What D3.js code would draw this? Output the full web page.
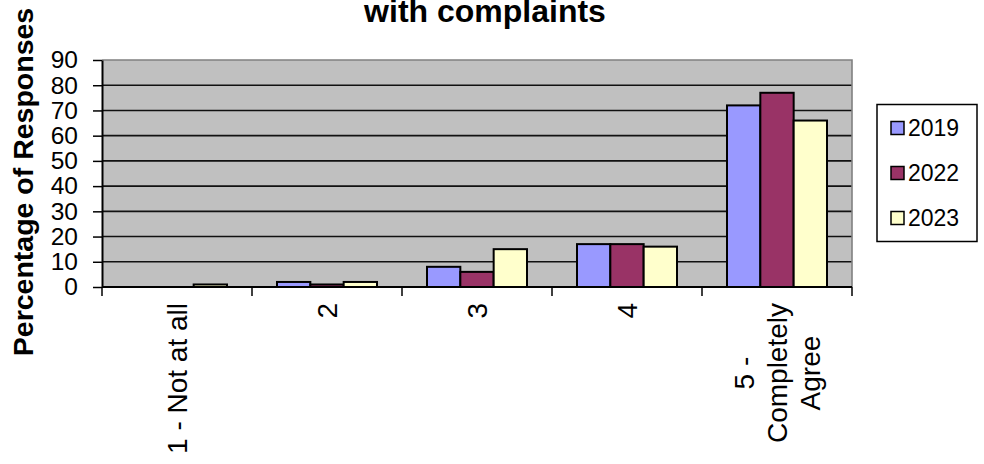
<!DOCTYPE html>
<html>
<head>
<meta charset="utf-8">
<script src="https://cdn.jsdelivr.net/npm/d3@7/dist/d3.min.js"></script>
<style>
  html, body { margin: 0; padding: 0; background: #fff; }
  svg { display: block; font-family: "Liberation Sans", Arial, sans-serif; }
</style>
</head>
<body>
<svg id="chart" width="984" height="464"></svg>
<script>
// Survey responses by rating, per year (percent of responses)
const categories = ["1 - Not at all", "2", "3", "4", "5 - |Completely|Agree"];
const seriesNames = ["2019", "2022", "2023"];
const values2019 = [0, 2, 8, 17, 72];
const values2022 = [0, 1, 6, 17, 77];
const values2023 = [1, 2, 15, 16, 66];
const yTicks = [0, 10, 20, 30, 40, 50, 60, 70, 80, 90];
const seriesColors = ["#9999FF", "#993366", "#FFFFCC"];

const seriesValues = [values2019, values2022, values2023];
const rows = categories.map((c, i) => ({
  category: c,
  values: seriesNames.map((s, j) => ({ series: s, value: seriesValues[j][i] }))
}));

const svg = d3.select("#chart");
const plot = { left: 102, right: 852, top: 60, bottom: 287 };

const x = d3.scaleBand().domain(categories).range([plot.left, plot.right]).padding(0);
const xSub = d3.scaleBand().domain(seriesNames).range([0, x.bandwidth()])
  .paddingInner(0).paddingOuter(0.75);
const y = d3.scaleLinear().domain([0, 90]).range([plot.bottom, plot.top]);
const color = d3.scaleOrdinal().domain(seriesNames).range(seriesColors);

// Plot background
svg.append("rect")
  .attr("x", plot.left).attr("y", plot.top)
  .attr("width", plot.right - plot.left).attr("height", plot.bottom - plot.top)
  .attr("fill", "#C0C0C0");

// Horizontal gridlines
svg.append("g").selectAll("line")
  .data(yTicks.filter(t => t > 0 && t < 90))
  .join("line")
  .attr("x1", plot.left).attr("x2", plot.right)
  .attr("y1", d => y(d)).attr("y2", d => y(d))
  .attr("stroke", "#111").attr("stroke-width", 1.6);

// Top and right frame of the plot area
svg.append("path")
  .attr("d", `M${plot.left},${y(90)}H${plot.right}V${plot.bottom}`)
  .attr("fill", "none").attr("stroke", "#808080").attr("stroke-width", 1.6);

// Bars
const groups = svg.append("g").selectAll("g")
  .data(rows).join("g")
  .attr("transform", d => `translate(${x(d.category)},0)`);

groups.selectAll("rect")
  .data(d => d.values.filter(v => v.value > 0))
  .join("rect")
  .attr("x", d => xSub(d.series))
  .attr("y", d => y(d.value))
  .attr("width", xSub.bandwidth())
  .attr("height", d => y(0) - y(d.value))
  .attr("fill", d => color(d.series))
  .attr("stroke", "#000").attr("stroke-width", 2);

// Y axis
const yAxis = svg.append("g")
  .attr("transform", `translate(${plot.left},0)`)
  .call(d3.axisLeft(y).tickValues(yTicks).tickSize(9).tickPadding(15).tickSizeOuter(0));
yAxis.select(".domain").attr("stroke", "#000").attr("stroke-width", 2);
yAxis.selectAll(".tick line").attr("stroke", "#000").attr("stroke-width", 1.5);
yAxis.selectAll(".tick text")
  .attr("font-size", 24.5).attr("fill", "#000")
  .attr("font-family", "'Liberation Sans', Arial, sans-serif");

// X axis (ticks on category boundaries)
const xAxis = svg.append("g")
  .attr("transform", `translate(0,${plot.bottom})`);
xAxis.append("line")
  .attr("x1", plot.left).attr("x2", plot.right)
  .attr("stroke", "#000").attr("stroke-width", 2);
const boundaries = categories.map(c => x(c)).concat([x(categories[categories.length - 1]) + x.bandwidth()]);
xAxis.selectAll("line.tick")
  .data(boundaries).join("line")
  .attr("class", "tick")
  .attr("x1", d => d).attr("x2", d => d)
  .attr("y1", 0).attr("y2", 9)
  .attr("stroke", "#000").attr("stroke-width", 1.5);

// Rotated category labels, lines centred, block ending just below the ticks
const labelTop = 303;
const lineGap = 33;
rows.forEach(r => {
  const lines = r.category.split("|").map(s => s.trim());
  const cx = x(r.category) + x.bandwidth() / 2;
  const g = svg.append("g");
  const texts = lines.map((ln, i) => g.append("text")
    .attr("font-size", 28).attr("fill", "#000")
    .attr("text-anchor", "middle")
    .text(ln));
  const maxW = d3.max(texts, t => t.node().getComputedTextLength());
  const cy = labelTop + maxW / 2;
  texts.forEach((t, i) => {
    const off = (i - (lines.length - 1) / 2) * lineGap;
    t.attr("transform", `translate(${cx + off},${cy}) rotate(-90)`)
      .attr("dy", "0.36em");
  });
});

// Y axis title
svg.append("text")
  .attr("transform", `translate(33,182) rotate(-90)`)
  .attr("text-anchor", "middle")
  .attr("font-size", 28.5).attr("font-weight", "bold").attr("fill", "#000")
  .text("Percentage of Responses");

// Chart title (second line)
svg.append("text")
  .attr("x", 485).attr("y", 22)
  .attr("text-anchor", "middle")
  .attr("font-size", 32).attr("font-weight", "bold").attr("fill", "#000")
  .text("with complaints");

// Legend
const legend = svg.append("g");
legend.append("rect")
  .attr("x", 877).attr("y", 104.5).attr("width", 100).attr("height", 137)
  .attr("fill", "#fff").attr("stroke", "#000").attr("stroke-width", 1.5);
const legendY = d3.scalePoint().domain(seriesNames).range([128, 218]);
const items = legend.selectAll("g.item").data(seriesNames).join("g")
  .attr("class", "item")
  .attr("transform", d => `translate(0,${legendY(d)})`);
items.append("rect")
  .attr("x", 891).attr("y", -6.5).attr("width", 13).attr("height", 13)
  .attr("fill", d => color(d)).attr("stroke", "#000").attr("stroke-width", 1.5);
items.append("text")
  .attr("x", 908).attr("y", 0).attr("dy", "0.36em")
  .attr("font-size", 23).attr("fill", "#000")
  .text(d => d);
</script>
</body>
</html>
